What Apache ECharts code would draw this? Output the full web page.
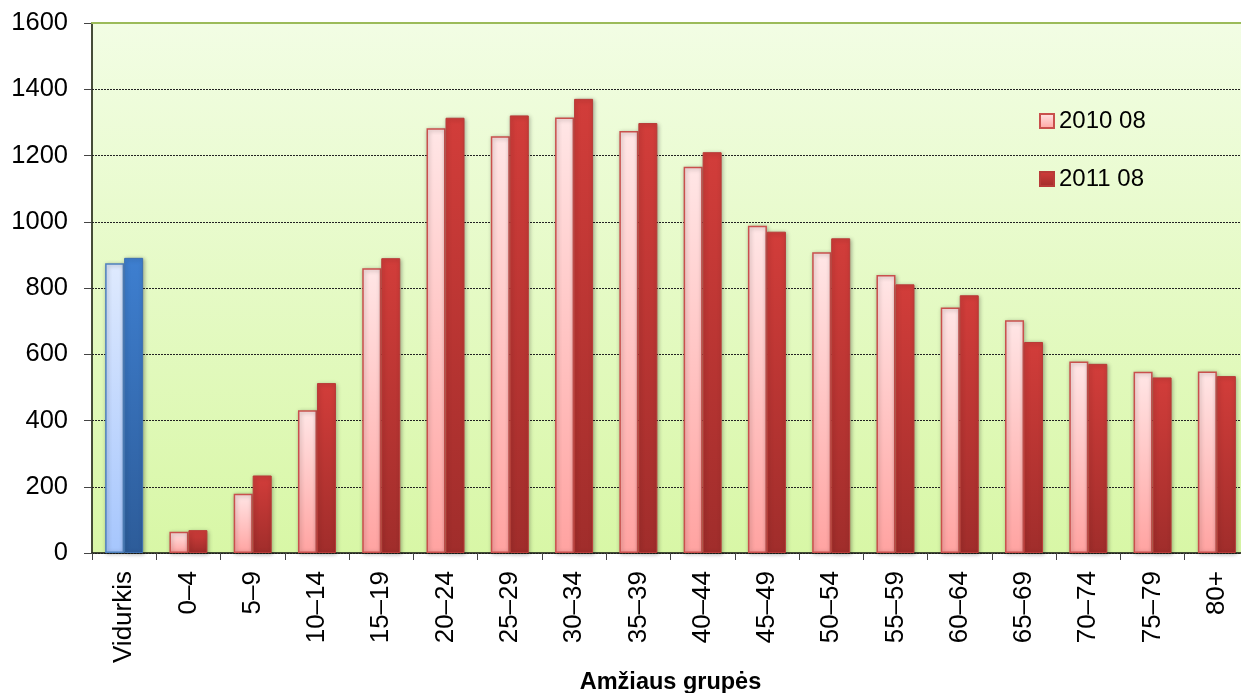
<!DOCTYPE html>
<html>
<head>
<meta charset="utf-8">
<script src="https://cdn.jsdelivr.net/npm/echarts@6/dist/echarts.min.js"></script>
<style>
html,body{margin:0;padding:0;background:#fff;}
#chart{width:1241px;height:693px;}
</style>
</head>
<body>
<div id="chart"></div>
<script>
const categories = ['Vidurkis','0–4','5–9','10–14','15–19','20–24','25–29','30–34','35–39','40–44','45–49','50–54','55–59','60–64','65–69','70–74','75–79','80+'];
const series2010 = [875, 64, 179, 431, 860, 1282, 1258, 1315, 1274, 1166, 988, 908, 839, 741, 703, 578, 547, 548];
const series2011 = [891, 69, 234, 513, 890, 1314, 1321, 1371, 1298, 1210, 970, 950, 811, 778, 637, 571, 530, 534];
const seriesNames = ['2010 08', '2011 08'];
const yTicks = {min: 0, max: 1600, interval: 200};
const xAxisTitle = 'Amžiaus grupės';

function grad(top, bottom) {
  return {type: 'linear', x: 0, y: 0, x2: 0, y2: 1, colorStops: [{offset: 0, color: top}, {offset: 1, color: bottom}]};
}
const lightRed = grad('#ffe6e6', '#ffa3a1');
const darkRed = grad('#d23d3a', '#a02d2b');
const lightBlue = grad('#dfeafe', '#a6c6fd');
const darkBlue = grad('#3e7fd0', '#2d5c99');

function buildData(vals, isFirst) {
  return vals.map((v, i) => {
    if (i === 0) {
      return {value: v, itemStyle: isFirst ? {color: lightBlue, borderColor: '#4f81bd'} : {color: darkBlue, borderColor: '#3d6fb0'}};
    }
    return v;
  });
}

const chart = echarts.init(document.getElementById('chart'), null, {renderer: 'canvas'});
const font = 'Arial, "Liberation Sans", sans-serif';
chart.setOption({
  animation: false,
  textStyle: {fontFamily: font},
  grid: {
    left: 92, right: -8, top: 23, bottom: 140,
    outerBoundsMode: 'none',
    containLabel: false,
    show: true,
    backgroundColor: grad('#f2fde4', '#d8f7a6'),
    borderColor: '#9bbb59', borderWidth: 1.5
  },
  legend: {
    orient: 'vertical', left: 1039, top: 109,
    itemWidth: 14, itemHeight: 14, itemGap: 34, padding: 0,
    icon: 'rect',
    textStyle: {fontSize: 24, color: '#000', fontFamily: font},
    data: seriesNames
  },
  xAxis: [{
    type: 'category', data: categories,
    name: xAxisTitle, nameLocation: 'middle', nameGap: 118,
    nameTextStyle: {fontSize: 23.5, fontWeight: 'bold', color: '#000', fontFamily: font},
    axisLine: {lineStyle: {color: '#222', width: 1.5}},
    axisTick: {show: true, length: 7, lineStyle: {color: '#444'}},
    axisLabel: {rotate: 90, fontSize: 26, color: '#000', margin: 18, fontFamily: font},
    splitLine: {show: false}
  }, {
    type: 'category', data: categories, position: 'top', z: 5,
    axisLine: {show: true, lineStyle: {color: '#9bbb59', width: 2}},
    axisTick: {show: false}, axisLabel: {show: false}, splitLine: {show: false}
  }],
  yAxis: {
    type: 'value', min: yTicks.min, max: yTicks.max, interval: yTicks.interval,
    axisLine: {show: true, lineStyle: {color: '#222', width: 1.5}},
    axisTick: {show: true, length: 8, lineStyle: {color: '#444'}},
    axisLabel: {fontSize: 25.5, color: '#000', margin: 24, fontFamily: font, formatter: v => String(v)},
    splitLine: {show: true, lineStyle: {color: '#222', type: [2, 1], width: 1}}
  },
  series: [
    {
      name: seriesNames[0], type: 'bar', data: buildData(series2010, true),
      barWidth: 19, barGap: '0%',
      itemStyle: {color: lightRed, borderColor: '#c9504d', borderWidth: 1.5, shadowBlur: 4, shadowColor: 'rgba(0,0,0,0.3)', shadowOffsetX: 1, shadowOffsetY: 1}
    },
    {
      name: seriesNames[1], type: 'bar', data: buildData(series2011, false),
      barWidth: 19, barGap: '0%',
      itemStyle: {color: darkRed, borderColor: '#b83b38', borderWidth: 1, shadowBlur: 4, shadowColor: 'rgba(0,0,0,0.3)', shadowOffsetX: 1, shadowOffsetY: 1}
    }
  ]
});
</script>
</body>
</html>
